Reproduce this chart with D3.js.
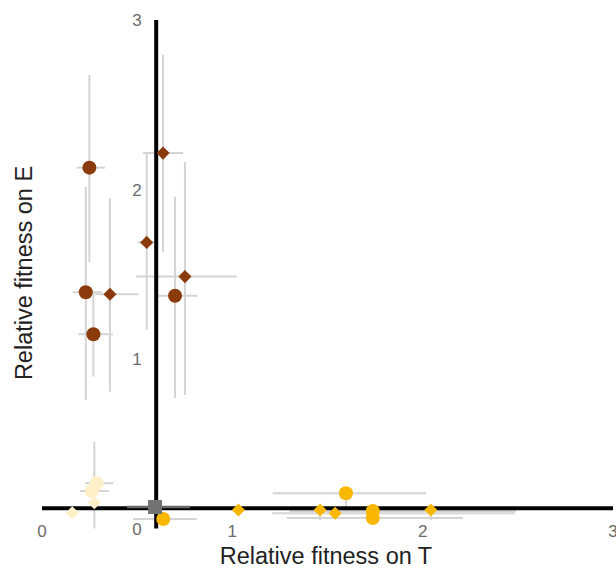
<!DOCTYPE html>
<meta charset="utf-8">
<script src="https://d3js.org/d3.v7.min.js"></script>
<style>
body { margin: 0; background: #fff; font-family: 'Liberation Sans', Arial, sans-serif; }
</style>
<svg width="616" height="574"></svg>
<script>
// point values with their error bar ends (relative fitness on T = x, on E = y)
var brownCircles = [
  {x: 0.249, y: 2.129, xmin: 0.182, xmax: 0.331, ymin: 1.573, ymax: 2.675},
  {x: 0.230, y: 1.394, xmin: 0.161, xmax: 0.314, ymin: 0.758, ymax: 2.015},
  {x: 0.270, y: 1.146, xmin: 0.189, xmax: 0.372, ymin: 0.896, ymax: 1.389},
  {x: 0.699, y: 1.373, xmin: 0.594, xmax: 0.818, ymin: 0.770, ymax: 1.958}
];
var brownDiamonds = [
  {x: 0.357, y: 1.382, xmin: 0.279, xmax: 0.506, ymin: 0.807, ymax: 1.950},
  {x: 0.636, y: 2.215, xmin: 0.531, xmax: 0.741, ymin: 1.631, ymax: 2.794},
  {x: 0.550, y: 1.688, xmin: 0.504, xmax: 0.610, ymin: 1.171, ymax: 2.215},
  {x: 0.751, y: 1.486, xmin: 0.494, xmax: 1.023, ymin: 0.788, ymax: 2.162}
];
var yellowCircles = [
  {x: 1.597, y: 0.208, xmin: 1.212, xmax: 2.018, ymin: 0.127, ymax: 0.209},
  {x: 1.738, y: 0.103, xmin: 1.300, xmax: 2.490, ymin: 0.103, ymax: 0.103},
  {x: 1.738, y: 0.062, xmin: 1.287, xmax: 2.212, ymin: 0.062, ymax: 0.062},
  {x: 0.637, y: 0.056, xmin: 0.478, xmax: 0.813, ymin: 0.056, ymax: 0.056}
];
var yellowDiamonds = [
  {x: 1.032, y: 0.109, xmin: 1.020, xmax: 1.045, ymin: 0.100, ymax: 0.118},
  {x: 1.461, y: 0.109, xmin: 1.450, xmax: 1.472, ymin: 0.050, ymax: 0.118},
  {x: 1.540, y: 0.090, xmin: 1.209, xmax: 2.485, ymin: 0.085, ymax: 0.095},
  {x: 2.043, y: 0.109, xmin: 2.030, xmax: 2.055, ymin: 0.050, ymax: 0.140}
];
var creamCircles = [
  {x: 0.261, y: 0.221, xmin: 0.200, xmax: 0.352, ymin: 0.200, ymax: 0.240},
  {x: 0.287, y: 0.267, xmin: 0.226, xmax: 0.373, ymin: 0.250, ymax: 0.285}
];
var creamDiamonds = [
  {x: 0.159, y: 0.093, xmin: 0.150, xmax: 0.168, ymin: 0.085, ymax: 0.100},
  {x: 0.275, y: 0.152, xmin: 0.265, xmax: 0.285, ymin: 0.000, ymax: 0.512}
];
var ancestor = [
  {x: 0.594, y: 0.127, xmin: 0.447, xmax: 0.778, ymin: 0.120, ymax: 0.134}
];
var crossX = 0.6, crossY = 0.12;
var xTicks = [0, 1, 2, 3];
var yTicks = [0, 1, 2, 3];

var svg = d3.select("svg");

var x = d3.scaleLinear().domain([0, 3]).range([42, 613]);
var y = d3.scaleLinear().domain([0, 3]).range([528.5, 20]);

var groups = [
  {data: brownCircles, shape: "circle", color: "#8b3a0c"},
  {data: brownDiamonds, shape: "diamond", color: "#8b3a0c"},
  {data: yellowCircles, shape: "circle", color: "#fab700"},
  {data: yellowDiamonds, shape: "diamond", color: "#fab700"},
  {data: creamCircles, shape: "circle", color: "#fff0c8"},
  {data: creamDiamonds, shape: "diamond", color: "#fff0c8"}
];

// error bars
var bars = svg.append("g")
  .attr("stroke", "#d4d4d4")
  .attr("stroke-width", 2);
groups.forEach(function(gr) {
  bars.selectAll(null).data(gr.data).enter().append("line")
    .attr("x1", function(d) { return x(d.xmin); })
    .attr("x2", function(d) { return x(d.xmax); })
    .attr("y1", function(d) { return y(d.y); })
    .attr("y2", function(d) { return y(d.y); });
  bars.selectAll(null).data(gr.data).enter().append("line")
    .attr("x1", function(d) { return x(d.x); })
    .attr("x2", function(d) { return x(d.x); })
    .attr("y1", function(d) { return y(d.ymin); })
    .attr("y2", function(d) { return y(d.ymax); });
});

// cross lines through the ancestor
svg.append("line")
  .attr("x1", x(crossX)).attr("x2", x(crossX))
  .attr("y1", y(3)).attr("y2", y(0))
  .attr("stroke", "#000").attr("stroke-width", 4);
svg.append("line")
  .attr("x1", x(0)).attr("x2", x(3))
  .attr("y1", y(crossY)).attr("y2", y(crossY))
  .attr("stroke", "#000").attr("stroke-width", 4);

// ancestor bar
svg.selectAll(null).data(ancestor).enter().append("line")
  .attr("x1", function(d) { return x(d.xmin); })
  .attr("x2", function(d) { return x(d.xmax); })
  .attr("y1", function(d) { return y(d.y); })
  .attr("y2", function(d) { return y(d.y); })
  .attr("stroke", "#6a6a6a").attr("stroke-width", 2.5);

// points
var diamond = d3.symbol().type(d3.symbolDiamond2).size(110);
groups.forEach(function(gr) {
  if (gr.shape == "circle") {
    svg.append("g").selectAll("circle").data(gr.data).enter().append("circle")
      .attr("cx", function(d) { return x(d.x); })
      .attr("cy", function(d) { return y(d.y); })
      .attr("r", 7)
      .attr("fill", gr.color);
  } else {
    svg.append("g").selectAll("path").data(gr.data).enter().append("path")
      .attr("d", diamond)
      .attr("transform", function(d) { return "translate(" + x(d.x) + "," + y(d.y) + ")"; })
      .attr("fill", gr.color);
  }
});

svg.selectAll(null).data(ancestor).enter().append("rect")
  .attr("x", function(d) { return x(d.x) - 7; })
  .attr("y", function(d) { return y(d.y) - 7; })
  .attr("width", 14).attr("height", 14)
  .attr("fill", "#737373");

// tick labels
svg.append("g")
  .attr("font-size", 17).attr("fill", "#6b6b6b").attr("text-anchor", "middle")
  .selectAll("text").data(xTicks).enter().append("text")
  .attr("x", function(d) { return x(d); })
  .attr("y", 537)
  .text(function(d) { return d; });

svg.append("g")
  .attr("font-size", 17).attr("fill", "#6b6b6b").attr("text-anchor", "middle")
  .selectAll("text").data(yTicks).enter().append("text")
  .attr("x", 137)
  .attr("y", function(d) { return y(d); })
  .attr("dy", "0.36em")
  .text(function(d) { return d; });

// axis titles
svg.append("text")
  .attr("x", 326).attr("y", 564)
  .attr("text-anchor", "middle")
  .attr("font-size", 23.5).attr("fill", "#222")
  .text("Relative fitness on T");

svg.append("text")
  .attr("transform", "translate(32,273) rotate(-90)")
  .attr("text-anchor", "middle")
  .attr("font-size", 23.5).attr("fill", "#222")
  .text("Relative fitness on E");
</script>
